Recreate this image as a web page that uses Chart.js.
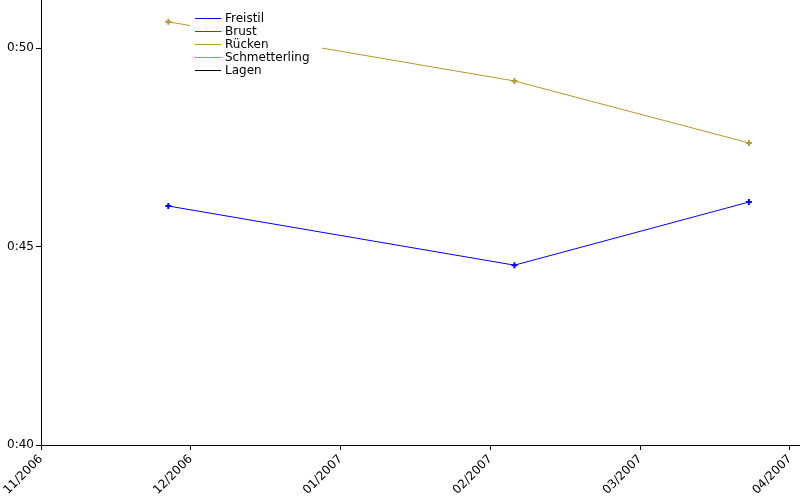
<!DOCTYPE html>
<html>
<head>
<meta charset="utf-8">
<script src="https://cdn.jsdelivr.net/npm/chart.js@4/dist/chart.umd.min.js"></script>
<style>
  html, body { margin: 0; padding: 0; background: #fff; }
  #wrap { width: 800px; height: 500px; }
</style>
</head>
<body>
<div id="wrap"><canvas id="myChart" width="800" height="500"></canvas></div>
<script>
// tick labels, one per month starting at 11/2006
const monthLabels = ['11/2006', '12/2006', '01/2007', '02/2007', '03/2007', '04/2007'];

// race dates
const raceDates = ['2006-11-26', '2007-02-05', '2007-03-23'];

// times in seconds
const freistil = [46.02, 44.53, 46.12];
const brust = [];
const ruecken = [50.66, 49.17, 47.61];
const schmetterling = [];
const lagen = [];

const seriesNames = ['Freistil', 'Brust', 'Rücken', 'Schmetterling', 'Lagen'];
const seriesColors = ['#0000ff', '#ff0000', '#b8962e', '#00ff00', '#000000'];
const seriesValues = [freistil, brust, ruecken, schmetterling, lagen];

// months since 11/2006, fractional by day of month (midday)
function monthIndex(s) {
    const [y, m, d] = s.split('-').map(Number);
    const days = new Date(y, m, 0).getDate();
    return (y - 2006) * 12 + (m - 11) + (d - 0.5) / days;
}

function fmtTime(sec) {
    const m = Math.floor(sec / 60);
    const s = Math.round(sec - m * 60);
    return m + ':' + String(s).padStart(2, '0');
}

const datasets = seriesNames.map((name, i) => ({
    label: name,
    data: seriesValues[i].map((v, k) => ({ x: monthIndex(raceDates[k]), y: v })),
    borderColor: seriesColors[i],
    backgroundColor: seriesColors[i],
    borderWidth: 1,
    pointStyle: 'cross',
    pointRadius: 3,
    pointBorderWidth: 2,
    tension: 0
}));

// legend drawn in the plot area on a white box
const boxLegend = {
    id: 'boxLegend',
    afterDatasetsDraw(chart) {
        const c = chart.ctx;
        c.save();
        c.fillStyle = '#fff';
        c.fillRect(190, 10, 132, 68);
        c.font = '12px "DejaVu Sans"';
        c.textBaseline = 'middle';
        chart.data.datasets.forEach((ds, i) => {
            const y = 18.5 + i * 13;
            c.strokeStyle = ds.borderColor;
            c.lineWidth = 1;
            c.beginPath();
            c.moveTo(195, y);
            c.lineTo(221, y);
            c.stroke();
            c.fillStyle = '#000';
            c.fillText(ds.label, 225, y);
        });
        c.restore();
    }
};

// no extra room around the plot for tick labels
function noPad(s) {
    s.paddingTop = 0;
    s.paddingBottom = 0;
    s.paddingLeft = 0;
    s.paddingRight = 0;
}

const ctx = document.getElementById('myChart').getContext('2d');
const myChart = new Chart(ctx, {
    type: 'line',
    data: { datasets: datasets },
    options: {
        responsive: false,
        animation: false,
        layout: { padding: 0, autoPadding: false },
        plugins: {
            legend: { display: false },
            tooltip: { enabled: false }
        },
        scales: {
            x: {
                type: 'linear',
                min: 0,
                max: 5.067,
                afterFit: s => { s.height = 55; noPad(s); },
                afterBuildTicks: s => { s.ticks = monthLabels.map((_, i) => ({ value: i })); },
                ticks: {
                    callback: v => monthLabels[v],
                    maxRotation: 45,
                    minRotation: 45,
                    color: '#000',
                    padding: 2,
                    font: { family: 'DejaVu Sans', size: 12 }
                },
                grid: { drawOnChartArea: false, tickLength: 5, color: '#000' },
                border: { color: '#000', width: 1 }
            },
            y: {
                type: 'linear',
                min: 40,
                max: 51.21,
                afterFit: s => { s.width = 41; noPad(s); },
                afterBuildTicks: s => { s.ticks = [40, 45, 50].map(v => ({ value: v })); },
                ticks: {
                    callback: v => fmtTime(v),
                    color: '#000',
                    padding: 2,
                    font: { family: 'DejaVu Sans', size: 12 }
                },
                grid: { drawOnChartArea: false, tickLength: 5, color: '#000' },
                border: { color: '#000', width: 1 }
            }
        }
    },
    plugins: [boxLegend]
});
</script>
</body>
</html>
